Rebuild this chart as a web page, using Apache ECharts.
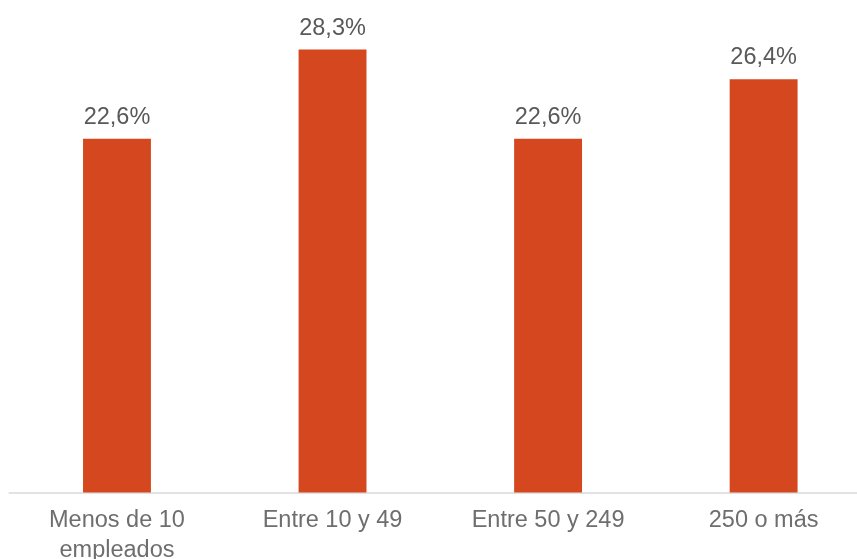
<!DOCTYPE html>
<html><head><meta charset="utf-8">
<script src="https://cdn.jsdelivr.net/npm/echarts@6/dist/echarts.min.js"></script>
<style>html,body{margin:0;padding:0;background:#fff}#c{width:857px;height:559px}</style>
</head><body><div id="c"></div>
<script>
const categories = ['Menos de 10\nempleados', 'Entre 10 y 49', 'Entre 50 y 249', '250 o más'];
const values = [22.6, 28.3, 22.6, 26.4];

const chart = echarts.init(document.getElementById('c'), null, {renderer: 'canvas'});
chart.setOption({
  animation: false,
  backgroundColor: '#ffffff',
  grid: {left: 9.2, width: 862.2, top: 23, bottom: 66.5, containLabel: false, outerBoundsMode: 'none'},
  xAxis: {
    type: 'category',
    data: categories,
    axisTick: {show: false},
    axisLine: {lineStyle: {color: '#d9d9d9', width: 1.5}},
    axisLabel: {
      color: '#6e6e6e', fontFamily: 'Liberation Sans, Arial', fontSize: 23.5,
      lineHeight: 30, margin: 13, interval: 0
    }
  },
  yAxis: {
    type: 'value', min: 0, max: 30,
    show: false, splitLine: {show: false}
  },
  series: [{
    type: 'bar',
    data: values,
    barWidth: '31.5%',
    itemStyle: {color: '#D4471F'},
    label: {
      show: true, position: 'top', distance: 9.5,
      color: '#595959', fontFamily: 'Liberation Sans, Arial', fontSize: 23.5,
      formatter: p => p.value.toFixed(1).replace('.', ',') + '%'
    }
  }]
});
</script></body></html>
